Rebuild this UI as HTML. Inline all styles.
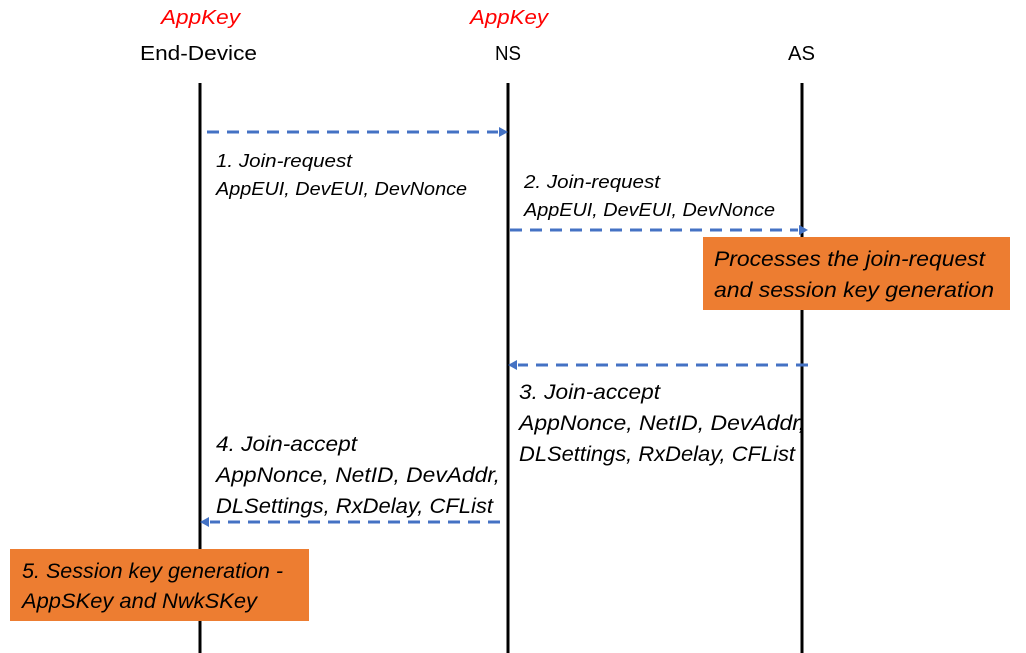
<!DOCTYPE html>
<html><head><meta charset="utf-8"><style>html,body{margin:0;padding:0;background:#fff}svg{display:block}</style></head>
<body>
<svg width="1026" height="653" viewBox="0 0 1026 653" xmlns="http://www.w3.org/2000/svg" font-family="Liberation Sans, sans-serif">
<rect width="1026" height="653" fill="#fff"/>
<g fill="#000" font-size="20">
<text x="140" y="60" textLength="117" lengthAdjust="spacingAndGlyphs">End-Device</text>
<text x="495" y="60" textLength="26" lengthAdjust="spacingAndGlyphs">NS</text>
<text x="788" y="60" textLength="27" lengthAdjust="spacingAndGlyphs">AS</text>
</g>
<g fill="#FF0000" font-size="20" font-style="italic">
<text x="161" y="24" textLength="79" lengthAdjust="spacingAndGlyphs">AppKey</text>
<text x="470" y="24" textLength="78" lengthAdjust="spacingAndGlyphs">AppKey</text>
</g>
<g fill="#000" font-style="italic" font-size="18">
<text x="216" y="167" textLength="136" lengthAdjust="spacingAndGlyphs">1. Join-request</text>
<text x="216" y="195" textLength="251" lengthAdjust="spacingAndGlyphs">AppEUI, DevEUI, DevNonce</text>
<text x="524" y="188" textLength="136" lengthAdjust="spacingAndGlyphs">2. Join-request</text>
<text x="524" y="216" textLength="251" lengthAdjust="spacingAndGlyphs">AppEUI, DevEUI, DevNonce</text>
</g>
<g fill="#000" font-style="italic" font-size="21">
<text x="519" y="399" textLength="141" lengthAdjust="spacingAndGlyphs">3. Join-accept</text>
<text x="519" y="430" textLength="286" lengthAdjust="spacingAndGlyphs">AppNonce, NetID, DevAddr,</text>
<text x="519" y="461" textLength="276" lengthAdjust="spacingAndGlyphs">DLSettings, RxDelay, CFList</text>
<text x="216" y="451" textLength="141" lengthAdjust="spacingAndGlyphs">4. Join-accept</text>
<text x="216" y="482" textLength="284" lengthAdjust="spacingAndGlyphs">AppNonce, NetID, DevAddr,</text>
<text x="216" y="513" textLength="277" lengthAdjust="spacingAndGlyphs">DLSettings, RxDelay, CFList</text>
</g>
<g stroke="#000" stroke-width="3">
<line x1="200" y1="83" x2="200" y2="653"/>
<line x1="508" y1="83" x2="508" y2="653"/>
<line x1="802" y1="83" x2="802" y2="653"/>
</g>
<g stroke="#4472C4" stroke-width="3" stroke-dasharray="12,8">
<line x1="207" y1="132" x2="498" y2="132"/>
<line x1="510" y1="230" x2="798" y2="230"/>
<line x1="808" y1="365" x2="518" y2="365"/>
<line x1="500" y1="522" x2="210" y2="522"/>
</g>
<g fill="#4472C4">
<polygon points="508,132 499,127 499,137"/>
<polygon points="808,230 799,225 799,235"/>
<polygon points="508,365 517,360 517,370"/>
<polygon points="200,522 209,517 209,527"/>
</g>
<rect x="703" y="237" width="307" height="73" fill="#ED7D31"/>
<rect x="10" y="549" width="299" height="72" fill="#ED7D31"/>
<g fill="#000" font-style="italic" font-size="21">
<text x="714" y="266" textLength="271" lengthAdjust="spacingAndGlyphs">Processes the join-request</text>
<text x="714" y="297" textLength="280" lengthAdjust="spacingAndGlyphs">and session key generation</text>
<text x="22" y="578" textLength="261" lengthAdjust="spacingAndGlyphs">5. Session key generation -</text>
<text x="22" y="608" textLength="235" lengthAdjust="spacingAndGlyphs">AppSKey and NwkSKey</text>
</g>
</svg>
</body></html>
